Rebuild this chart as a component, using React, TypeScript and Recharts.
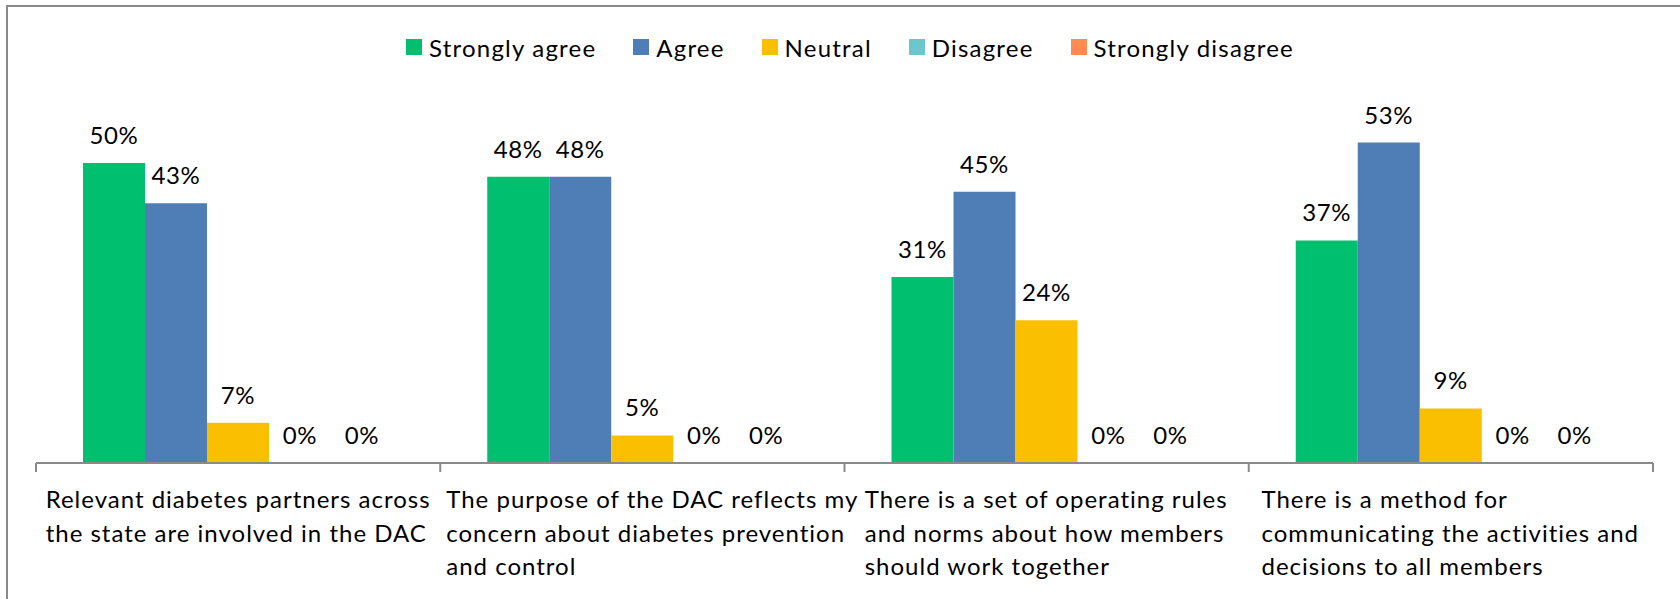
import React from 'react';
import { BarChart, Bar, XAxis, YAxis, LabelList } from 'recharts';

const categories = [
  'Relevant diabetes partners across\nthe state are involved in the DAC',
  'The purpose of the DAC reflects my\nconcern about diabetes prevention\nand control',
  'There is a set of operating rules\nand norms about how members\nshould work together',
  'There is a method for\ncommunicating the activities and\ndecisions to all members',
];
const seriesNames = ['Strongly agree', 'Agree', 'Neutral', 'Disagree', 'Strongly disagree'];
const seriesColors = ['#00BF6F', '#4F7DB6', '#FAC000', '#6CC7CD', '#FF8B50'];
const stronglyAgree = [50.0, 47.7, 31.0, 37.1];
const agree = [43.3, 47.7, 45.2, 53.4];
const neutral = [6.7, 4.6, 23.8, 9.1];
const disagree = [0, 0, 0, 0];
const stronglyDisagree = [0, 0, 0, 0];
const seriesValues = [stronglyAgree, agree, neutral, disagree, stronglyDisagree];

const data = categories.map((name, i) => {
  const row: any = { name };
  seriesNames.forEach((s, j) => { row[s] = seriesValues[j][i]; });
  return row;
});

// layout
const W = 1680;
const H = 599;
const LEFT = 36;
const RIGHT = 27;
const TOP = 103;
const AXIS_Y = 463;
const BAND = (W - LEFT - RIGHT) / categories.length;
const FONT = 'Lato, "Noto Sans", sans-serif';
const FONT_SIZE = 24;
const SPACING = 1.0;
const AXIS_COLOR = '#8a8a8a';

let ctx: CanvasRenderingContext2D | null = null;
const measure = (s: string) => {
  if (!ctx) ctx = document.createElement('canvas').getContext('2d');
  if (!ctx) return s.length * FONT_SIZE * 0.5;
  ctx.font = `${FONT_SIZE}px ${FONT}`;
  return ctx.measureText(s).width + SPACING * s.length;
};

const CategoryTick = (props: any) => {
  const { x, payload } = props;
  const idx = payload?.index ?? props.index;
  const lines = String(payload.value).split('\n');
  const block = Math.min(BAND - 12, Math.max(...lines.map(measure)));
  const left = x - block / 2;
  return (
    <g>
      <line x1={x - BAND / 2} x2={x - BAND / 2} y1={AXIS_Y} y2={AXIS_Y + 9} stroke={AXIS_COLOR} strokeWidth={2} />
      {idx === categories.length - 1 && (
        <line x1={x + BAND / 2} x2={x + BAND / 2} y1={AXIS_Y} y2={AXIS_Y + 9} stroke={AXIS_COLOR} strokeWidth={2} />
      )}
      <text x={left} y={AXIS_Y + 45} fontSize={FONT_SIZE} fontFamily={FONT} fill="#000" letterSpacing={SPACING}>
        {lines.map((l, i) => (
          <tspan key={i} x={left} dy={i === 0 ? 0 : 33.7}>{l}</tspan>
        ))}
      </text>
    </g>
  );
};

const ValueLabel = (props: any) => {
  const { x, y, width, value } = props;
  if (value == null) return null;
  return (
    <text
      x={Number(x) + Number(width) / 2}
      y={Number(y) - 19}
      textAnchor="middle"
      fontSize={FONT_SIZE}
      fontFamily={FONT}
      letterSpacing={0.6}
      fill="#000"
    >
      {`${Math.round(Number(value))}%`}
    </text>
  );
};

const App: React.FC = () => {
  return (
    <div style={{ position: 'relative', width: W, height: H, background: '#fff', fontFamily: FONT }}>
      <style>{'body{margin:0}'}</style>
      <div
        style={{
          position: 'absolute', left: 6, top: 5, width: W, height: H,
          borderTop: `2px solid ${AXIS_COLOR}`, borderLeft: `2px solid ${AXIS_COLOR}`,
        }}
      />
      <div
        style={{
          position: 'absolute', left: 20, top: 30, width: 1660, height: 34,
          display: 'flex', justifyContent: 'center', alignItems: 'center', gap: 37,
          fontSize: FONT_SIZE, letterSpacing: 1.2, color: '#000', zIndex: 2,
        }}
      >
        {seriesNames.map((s, i) => (
          <div key={s} style={{ display: 'flex', alignItems: 'center' }}>
            <span style={{ width: 16, height: 16, background: seriesColors[i], marginRight: 7, display: 'inline-block' }} />
            <span>{s}</span>
          </div>
        ))}
      </div>
      <div style={{ position: 'absolute', left: 0, top: 0 }}>
        <BarChart
          width={W}
          height={H}
          data={data}
          margin={{ top: TOP, right: RIGHT, left: LEFT, bottom: 0 }}
          barGap={0}
        >
          <XAxis
            dataKey="name"
            height={H - AXIS_Y}
            interval={0}
            axisLine={{ stroke: AXIS_COLOR, strokeWidth: 2 }}
            tickLine={false}
            tickSize={0}
            tickMargin={0}
            tick={<CategoryTick />}
          />
          <YAxis hide domain={[0, 60]} />
          {seriesNames.map((s, i) => (
            <Bar key={s} dataKey={s} fill={seriesColors[i]} barSize={62} minPointSize={0.01} isAnimationActive={false}>
              <LabelList dataKey={s} content={<ValueLabel />} />
            </Bar>
          ))}
        </BarChart>
      </div>
    </div>
  );
};

export default App;
